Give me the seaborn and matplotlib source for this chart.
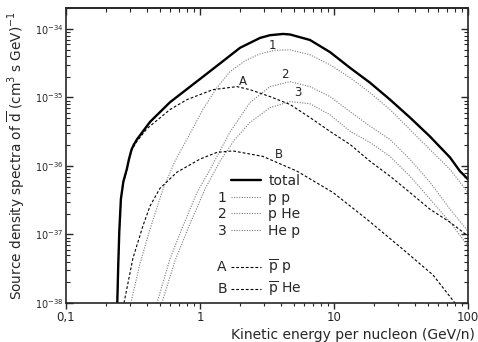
import numpy as np
import pandas as pd
import matplotlib
matplotlib.use("Agg")
import matplotlib.pyplot as plt
from matplotlib.lines import Line2D
from matplotlib.ticker import LogLocator, FixedLocator, FixedFormatter, NullFormatter
import seaborn as sns

# values (kinetic energy GeV/n, source density)
total_E = [0.2415, 0.2455, 0.250, 0.257, 0.268, 0.285, 0.295, 0.309, 0.321, 0.339, 0.424, 0.597,
           1.05, 1.41, 1.99, 2.81, 3.33, 4.16, 4.70, 6.62, 9.33, 13.2, 18.6, 26.2, 36.9, 52.0,
           73.5, 87.1, 100]
total_F = [1.0e-38, 3.5e-38, 1.1e-37, 3.3e-37, 5.9e-37, 9.1e-37, 1.25e-36, 1.75e-36, 2.05e-36,
           2.45e-36, 4.4e-36, 8.5e-36, 2.0e-35, 3.13e-35, 5.3e-35, 7.4e-35, 8.1e-35, 8.45e-35,
           8.3e-35, 6.9e-35, 4.6e-35, 2.7e-35, 1.64e-35, 9.3e-36, 5.1e-36, 2.7e-36, 1.33e-36,
           8.4e-37, 6.4e-37]

pp_E = [0.305, 0.356, 0.424, 0.530, 0.650, 0.813, 1.05, 1.34, 1.67, 2.17, 2.81, 3.63, 4.70,
        6.62, 9.33, 13.2, 18.6, 26.2, 36.9, 52.0, 73.5, 100]
pp_F = [1.0e-38, 3.7e-38, 1.2e-37, 4.6e-37, 1.17e-36, 2.6e-36, 6.65e-36, 1.39e-35, 2.37e-35,
        3.43e-35, 4.34e-35, 4.88e-35, 4.95e-35, 4.2e-35, 3.0e-35, 1.94e-35, 1.17e-35, 6.65e-36,
        3.4e-36, 1.74e-36, 8.9e-37, 4.1e-37]

pHe_E = [0.478, 0.597, 0.746, 0.95, 1.19, 1.67, 2.36, 3.33, 4.70, 6.62, 9.33, 13.2, 18.6,
         26.2, 36.9, 52.0, 73.5, 100]
pHe_F = [1.0e-38, 4.4e-38, 1.32e-37, 4.1e-37, 8.9e-37, 3.1e-36, 8.4e-36, 1.44e-35, 1.70e-35,
         1.44e-35, 1.03e-35, 6.2e-36, 3.8e-36, 2.44e-36, 1.25e-36, 5.8e-37, 2.34e-37, 1.12e-37]

Hep_E = [0.52, 0.65, 0.841, 1.09, 1.41, 1.82, 2.36, 3.33, 4.70, 6.62, 9.33, 13.2, 18.6, 26.2,
         36.9, 52.0, 73.5, 100]
Hep_F = [1.0e-38, 4.1e-38, 1.42e-37, 4.6e-37, 1.17e-36, 2.44e-36, 4.3e-36, 7.1e-36, 8.7e-36,
         8.1e-36, 5.6e-36, 3.2e-36, 2.2e-36, 1.38e-36, 7.1e-37, 3.3e-37, 1.51e-37, 6.8e-38]

pbarp_E = [0.2415, 0.2455, 0.250, 0.257, 0.268, 0.285, 0.309, 0.339, 0.402, 0.597, 0.80,
           1.25, 1.89, 2.36, 3.33, 4.70, 6.62, 9.33, 13.2, 18.6, 26.2, 36.9, 52.0, 73.5, 100]
pbarp_F = [1.0e-38, 3.4e-38, 1.05e-37, 3.2e-37, 5.7e-37, 8.8e-37, 1.7e-36, 2.3e-36, 3.5e-36,
           6.65e-36, 9.3e-36, 1.3e-35, 1.44e-35, 1.3e-35, 1.03e-35, 7.9e-36, 5.1e-36, 3.2e-36,
           2.06e-36, 1.17e-36, 7.1e-37, 4.1e-37, 2.34e-37, 1.51e-37, 9.5e-38]

pbarHe_E = [0.271, 0.316, 0.376, 0.424, 0.502, 0.673, 1.0, 1.34, 1.76, 2.95, 5.30, 9.84,
            17.6, 31.1, 54.8, 80.0]
pbarHe_F = [1.0e-38, 4.5e-38, 1.35e-37, 2.6e-37, 4.7e-37, 8.1e-37, 1.26e-36, 1.58e-36,
            1.66e-36, 1.38e-36, 8.4e-37, 4.1e-37, 1.67e-37, 6.6e-38, 2.57e-38, 1.0e-38]

curve_tags = ["1", "2", "3", "A", "B"]
tag_E = [3.5, 4.3, 5.4, 2.1, 3.9]
tag_F = [5.7e-35, 2.15e-35, 1.18e-35, 1.7e-35, 1.48e-36]

x_ticks = [0.1, 1, 10, 100]
x_ticklabels = ["0,1", "1", "10", "100"]

sns.set_style("ticks")
plt.rcParams["font.family"] = ["DejaVu Sans"]
plt.rcParams["mathtext.fontset"] = "dejavusans"

fig = plt.figure(figsize=(4.78, 3.42), dpi=100)
ax = fig.add_axes([0.138, 0.114, 0.841, 0.863])

gray = "#7a7a7a"
dot = (0, (1, 1.3))
dash = (0, (2.5, 1.8))
curves = [
    (total_E, total_F, "black", "-", 1.7),
    (pp_E, pp_F, gray, dot, 0.8),
    (pHe_E, pHe_F, gray, dot, 0.8),
    (Hep_E, Hep_F, gray, dot, 0.8),
    (pbarp_E, pbarp_F, "black", dash, 0.8),
    (pbarHe_E, pbarHe_F, "black", dash, 0.8),
]
for E, F, col, ls, lw in curves:
    df = pd.DataFrame({"E": E, "F": F})
    sns.lineplot(data=df, x="E", y="F", ax=ax, color=col, linestyle=ls, linewidth=lw,
                 estimator=None, sort=False)

for t, e, f in zip(curve_tags, tag_E, tag_F):
    ax.text(e, f, t, fontsize=8.5, ha="center", va="center")

ax.set_xscale("log")
ax.set_yscale("log")
ax.set_xlim(0.1, 100)
ax.set_ylim(1e-38, 2.03e-34)

ax.xaxis.set_major_locator(FixedLocator(x_ticks))
ax.xaxis.set_major_formatter(FixedFormatter(x_ticklabels))
ax.xaxis.set_minor_locator(LogLocator(base=10, subs=np.arange(2, 10)))
ax.xaxis.set_minor_formatter(NullFormatter())
ax.yaxis.set_major_locator(FixedLocator([1e-38, 1e-37, 1e-36, 1e-35, 1e-34]))
ax.yaxis.set_minor_locator(LogLocator(base=10, subs=np.arange(2, 10), numticks=10))
ax.yaxis.set_minor_formatter(NullFormatter())

ax.tick_params(axis="x", which="both", direction="out", top=False, labelsize=8.5, pad=1.5)
ax.tick_params(axis="x", which="major", length=4.5, width=1)
ax.tick_params(axis="x", which="minor", length=2.5, width=0.8)
ax.tick_params(axis="y", which="both", direction="in", right=True, labelsize=7, pad=2)
ax.tick_params(axis="y", which="major", length=5, width=1)
ax.tick_params(axis="y", which="minor", length=3, width=0.8)
sec = ax.secondary_xaxis("top")
sec.xaxis.set_major_locator(FixedLocator(x_ticks))
sec.xaxis.set_minor_locator(LogLocator(base=10, subs=np.arange(2, 10)))
sec.xaxis.set_minor_formatter(NullFormatter())
sec.tick_params(which="both", direction="in", labeltop=False)
sec.tick_params(which="major", length=5, width=1)
sec.tick_params(which="minor", length=3, width=0.8)
for s in ax.spines.values():
    s.set_linewidth(1.2)
sec.spines["top"].set_linewidth(1.2)

ax.set_xlabel("Kinetic energy per nucleon (GeV/n)", fontsize=10)
ax.xaxis.set_label_coords(1.016, -0.084)
ax.xaxis.label.set_ha("right")
ax.set_ylabel(r"Source density spectra of $\overline{\mathrm{d}}$ (cm$^3$ s GeV)$^{-1}$",
              fontsize=9.8)
ax.yaxis.set_label_coords(-0.097, 0.5)

handles = [
    Line2D([], [], color="black", lw=1.7),
    Line2D([], [], color=gray, lw=0.8, ls=dot),
    Line2D([], [], color=gray, lw=0.8, ls=dot),
    Line2D([], [], color=gray, lw=0.8, ls=dot),
    Line2D([], [], color="none"),
    Line2D([], [], color="black", lw=0.8, ls=dash),
    Line2D([], [], color="black", lw=0.8, ls=dash),
]
labels = ["total", "p p", "p He", "He p", " ",
          r"$\overline{\mathrm{p}}$ p", r"$\overline{\mathrm{p}}$ He"]
leg = ax.legend(handles, labels, loc="upper left", bbox_to_anchor=(0.41, 0.438),
                frameon=False, fontsize=10, handlelength=2.2, handletextpad=0.5,
                labelspacing=0.2, borderpad=0, borderaxespad=0)

fig.canvas.draw()
r = fig.canvas.get_renderer()
inv = ax.transAxes.inverted()
row_tags = {1: "1", 2: "2", 3: "3", 5: "A", 6: "B"}
leg_lines = leg.get_lines()
for i, tag in row_tags.items():
    bb = leg.get_texts()[i].get_window_extent(r)
    lb = leg_lines[i].get_window_extent(r)
    x0, yc = inv.transform((lb.x0 - 4, (bb.y0 + bb.y1) / 2))
    ax.text(x0, yc, tag, transform=ax.transAxes, fontsize=10, ha="right", va="center")

fig.savefig("out.png", dpi=100)
